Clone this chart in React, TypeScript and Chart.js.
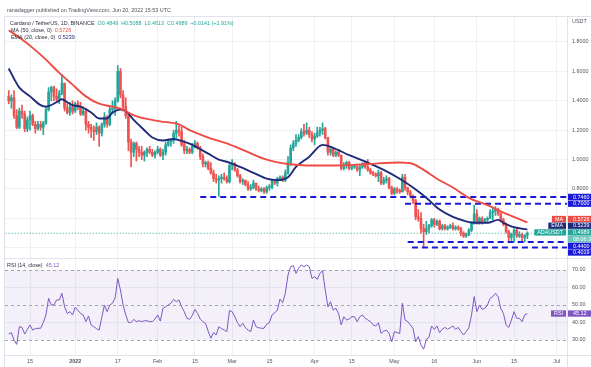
import React, { useEffect, useRef } from "react";
import { Chart, registerables } from "chart.js";

Chart.register(...registerables);

const FONT = "'Liberation Sans', Arial, sans-serif";
const FS = 5.4;
const TXT = "#50535e";
const DARK = "#2a2e39";
const GRID = "#eef0f4";
const UP = "#26a69a";
const DOWN = "#ef5350";
const MA_COLOR = "#ee4b43";
const EMA_COLOR = "#1e2a7a";
const RSI_COLOR = "#7e57c2";
const LEVEL_COLOR = "#1a1ad6";

// Daily candles, day 0 = 2021-12-07 ... day 195 = 2022-06-20
const firstDay = "2021-12-07";
const opens = [
  1.43,1.40,1.42,1.30,1.22,1.33,1.31,1.21,1.27,1.30,
  1.24,1.21,1.24,1.22,1.25,1.34,1.46,1.49,1.43,1.41,
  1.45,1.52,1.35,1.32,1.36,1.33,1.38,1.36,1.31,1.33,
  1.24,1.22,1.20,1.19,1.22,1.18,1.24,1.29,1.24,1.34,
  1.35,1.40,1.60,1.44,1.36,1.30,1.12,1.05,1.11,1.07,
  1.05,1.03,1.05,1.07,1.05,1.03,1.05,1.07,1.03,1.05,
  1.10,1.12,1.13,1.18,1.20,1.19,1.10,1.06,1.07,1.05,
  1.09,1.11,1.08,1.02,0.97,0.98,0.94,0.91,0.87,0.86,
  0.87,0.88,0.87,0.85,0.96,0.97,0.93,0.89,0.85,0.86,
  0.83,0.80,0.81,0.84,0.80,0.79,0.80,0.78,0.81,0.81,
  0.85,0.84,0.87,0.88,0.86,0.91,0.98,1.08,1.11,1.13,
  1.15,1.19,1.18,1.20,1.17,1.14,1.16,1.18,1.20,1.21,
  1.15,1.05,1.07,1.03,1.05,1.03,0.94,0.96,0.98,0.94,
  0.95,0.95,0.93,0.95,0.97,0.95,0.93,0.91,0.90,0.89,
  0.91,0.84,0.86,0.87,0.81,0.77,0.80,0.79,0.78,0.88,
  0.81,0.78,0.75,0.72,0.61,0.60,0.53,0.51,0.53,0.55,
  0.59,0.56,0.58,0.53,0.55,0.53,0.54,0.55,0.53,0.54,
  0.53,0.50,0.48,0.49,0.52,0.57,0.63,0.57,0.60,0.58,
  0.59,0.60,0.64,0.65,0.66,0.63,0.59,0.56,0.51,0.47,
  0.49,0.52,0.48,0.49,0.47,0.4849,
];
const highs = [
  1.47,1.44,1.47,1.34,1.35,1.37,1.33,1.29,1.33,1.31,
  1.26,1.26,1.26,1.26,1.36,1.49,1.50,1.50,1.48,1.47,
  1.58,1.52,1.38,1.39,1.40,1.39,1.40,1.39,1.36,1.35,
  1.26,1.24,1.23,1.25,1.23,1.25,1.32,1.30,1.36,1.40,
  1.42,1.64,1.62,1.47,1.42,1.31,1.14,1.12,1.12,1.09,
  1.09,1.06,1.08,1.09,1.07,1.06,1.09,1.08,1.07,1.12,
  1.14,1.14,1.20,1.26,1.23,1.22,1.13,1.09,1.08,1.11,
  1.13,1.12,1.09,1.04,0.99,0.99,0.98,0.93,0.90,0.89,
  0.90,0.91,0.89,0.98,1.00,0.98,0.94,0.90,0.87,0.86,
  0.85,0.83,0.86,0.84,0.82,0.81,0.81,0.82,0.83,0.86,
  0.86,0.88,0.89,0.89,0.93,1.02,1.10,1.13,1.17,1.17,
  1.21,1.24,1.25,1.22,1.19,1.18,1.22,1.22,1.25,1.22,
  1.15,1.09,1.08,1.06,1.07,1.03,0.98,0.99,0.99,0.96,
  0.96,0.96,0.96,0.98,0.99,1.00,0.94,0.92,0.91,0.93,
  0.92,0.88,0.89,0.88,0.82,0.81,0.81,0.80,0.90,0.90,
  0.81,0.79,0.76,0.73,0.66,0.64,0.56,0.58,0.56,0.60,
  0.60,0.59,0.59,0.56,0.56,0.55,0.56,0.57,0.55,0.55,
  0.54,0.51,0.50,0.53,0.58,0.69,0.66,0.61,0.61,0.60,
  0.61,0.66,0.67,0.68,0.67,0.64,0.60,0.57,0.52,0.50,
  0.53,0.53,0.51,0.50,0.49,0.5088,
];
const lows = [
  1.38,1.35,1.28,1.21,1.21,1.28,1.19,1.19,1.20,1.23,
  1.18,1.20,1.20,1.17,1.24,1.33,1.40,1.40,1.39,1.38,
  1.44,1.33,1.31,1.30,1.31,1.32,1.34,1.30,1.30,1.20,
  1.18,1.15,1.13,1.17,1.09,1.16,1.22,1.22,1.23,1.31,
  1.30,1.39,1.42,1.33,1.28,1.06,0.95,1.02,0.99,1.02,
  1.00,0.99,1.02,1.04,1.02,1.01,1.04,1.02,1.00,1.03,
  1.09,1.09,1.11,1.15,1.16,1.09,1.04,1.04,1.04,1.04,
  1.08,1.07,1.00,0.95,0.95,0.93,0.90,0.85,0.84,0.75,
  0.84,0.86,0.84,0.84,0.93,0.92,0.88,0.84,0.83,0.82,
  0.79,0.79,0.80,0.79,0.78,0.78,0.77,0.77,0.79,0.80,
  0.83,0.82,0.86,0.85,0.85,0.90,0.96,1.06,1.09,1.12,
  1.14,1.16,1.17,1.15,1.12,1.10,1.15,1.16,1.17,1.14,
  1.03,1.03,1.02,1.02,1.02,0.93,0.93,0.94,0.93,0.93,
  0.94,0.92,0.89,0.94,0.94,0.92,0.90,0.89,0.88,0.85,
  0.83,0.83,0.84,0.80,0.76,0.76,0.77,0.77,0.78,0.79,
  0.76,0.74,0.70,0.59,0.58,0.50,0.40,0.49,0.50,0.54,
  0.54,0.55,0.52,0.52,0.52,0.52,0.53,0.52,0.52,0.52,
  0.48,0.47,0.47,0.48,0.51,0.56,0.56,0.56,0.56,0.57,
  0.58,0.60,0.59,0.62,0.62,0.58,0.55,0.50,0.44,0.45,
  0.44,0.47,0.47,0.44,0.44,0.4613,
];
const closes = [
  1.40,1.42,1.30,1.22,1.33,1.31,1.21,1.27,1.30,1.24,
  1.21,1.24,1.22,1.25,1.34,1.46,1.49,1.43,1.41,1.45,
  1.52,1.35,1.32,1.36,1.33,1.38,1.36,1.31,1.33,1.24,
  1.22,1.20,1.19,1.22,1.18,1.24,1.29,1.24,1.34,1.35,
  1.40,1.60,1.44,1.36,1.30,1.12,1.05,1.11,1.07,1.05,
  1.03,1.05,1.07,1.05,1.03,1.05,1.07,1.03,1.05,1.10,
  1.12,1.13,1.18,1.20,1.19,1.10,1.06,1.07,1.05,1.09,
  1.11,1.08,1.02,0.97,0.98,0.94,0.91,0.87,0.86,0.87,
  0.88,0.87,0.85,0.96,0.97,0.93,0.89,0.85,0.86,0.83,
  0.80,0.81,0.84,0.80,0.79,0.80,0.78,0.81,0.81,0.85,
  0.84,0.87,0.88,0.86,0.91,0.98,1.08,1.11,1.13,1.15,
  1.19,1.18,1.20,1.17,1.14,1.16,1.18,1.20,1.21,1.15,
  1.05,1.07,1.03,1.05,1.03,0.94,0.96,0.98,0.94,0.95,
  0.95,0.93,0.95,0.97,0.95,0.93,0.91,0.90,0.89,0.91,
  0.84,0.86,0.87,0.81,0.77,0.80,0.79,0.78,0.88,0.81,
  0.78,0.75,0.72,0.61,0.60,0.53,0.51,0.53,0.55,0.59,
  0.56,0.58,0.53,0.55,0.53,0.54,0.55,0.53,0.54,0.53,
  0.50,0.48,0.49,0.52,0.57,0.63,0.57,0.60,0.58,0.59,
  0.60,0.64,0.65,0.66,0.63,0.59,0.56,0.51,0.47,0.49,
  0.52,0.48,0.49,0.47,0.4848,0.4989,
];

// RSI (14) per day
const rsi = [
  33.4,34.2,30,27.5,37.6,37.2,33.4,36,38.6,35.7,
  36.5,36.7,36.7,40,44.3,53.8,50,50,52.9,52.9,
  56.7,49,45.2,46.2,44.3,48.7,47,45.2,44.3,40.5,
  43.7,38.6,37.6,36.5,35.7,43,50,46.2,50,51,
  54,65.2,58.6,50,44.3,40,39.9,41.8,40.5,41,
  40.5,41,41,40.5,40.5,42,44.3,40.8,48.1,49,
  50,51,53.2,51.9,52.9,49,46.2,42.4,41.8,44,
  47.5,45.2,42,40.5,39.5,35,31,34.2,32.9,37.6,
  36.5,35.7,34.8,46.8,46.2,43.3,40,37.6,39.5,37,
  35.7,34.8,41.4,37.6,37,36.7,36.7,39.1,39.9,44.3,
  45.5,47.1,53.4,51.3,56.7,67.1,71.9,72.5,68.1,71,
  72.9,71.9,72.9,71.9,65.2,66.2,64.7,68.1,69.6,58.6,
  49,51.9,47.1,48.1,45.2,38.6,43.3,41.4,42,43.3,
  43.3,40.5,43.3,44.3,42.4,41.5,40.5,38.6,38,39.9,
  33.8,35,35.7,33.8,29,34.8,34.2,33.8,51,41.4,
  40.5,38.6,36.7,29,31.9,27.1,24.7,30.4,31.5,38,
  36.1,38,34.2,36.1,37.2,36.1,37,38,36.1,37.2,
  34.8,32.9,34.8,37,44.3,54.8,46.2,50,47.5,48.1,
  50,53.8,54.8,56.7,54.8,48.1,45.2,38.6,37.2,41.4,
  46.2,42.4,42.4,40.5,44.3,45.12,
];

// MA(50) read at sample days
const maDays = [0,4,9,14,19,24,29,34,39,43,47,51,57,64,68,75,82,90,97,105,112,122,135,147,152,156,161,167,173,180,186,195];
const maValues = [1.88,1.83,1.76,1.68,1.59,1.51,1.43,1.38,1.36,1.34,1.30,1.28,1.26,1.24,1.20,1.15,1.11,1.05,1.00,0.97,0.96,0.96,0.97,0.98,0.97,0.93,0.87,0.81,0.74,0.69,0.64,0.5726];

// EMA(20) read at sample days
const emaDays = [0,2,4,8,12,14,18,20,22,24,27,31,34,37,39,42,44,47,51,54,58,62,66,69,75,79,83,87,92,97,101,105,108,113,118,122,128,135,141,147,152,157,162,167,172,175,180,184,186,190,195];
const emaValues = [1.62,1.55,1.49,1.43,1.37,1.36,1.39,1.41,1.39,1.37,1.36,1.32,1.28,1.28,1.32,1.34,1.33,1.27,1.20,1.15,1.13,1.14,1.12,1.10,1.04,1.00,0.98,0.95,0.91,0.87,0.86,0.88,0.95,1.02,1.10,1.08,1.03,0.98,0.93,0.87,0.81,0.74,0.66,0.61,0.58,0.57,0.57,0.59,0.57,0.54,0.5239];

// Horizontal support / resistance levels and the day each starts
const levelValues = [0.746, 0.70, 0.44, 0.4019];
const levelStarts = [72, 149, 150, 151.6];

// Axis ticks
const tickDays = [8,25,41,56,70,84,98,115,129,145,160,176,190,206];
const tickLabels = ["15","2022","17","Feb","15","Mar","15","Apr","15","May","16","Jun","15","Jul"];
const priceTicks = [0.4,0.5,0.6,0.7,0.8,0.9,1.0,1.1,1.2,1.3,1.4,1.5,1.6,1.7,1.8,1.9];
const rsiTicks = [30,40,50,60,70];
const rsiBand = [30, 70];
const rsiDashed = [30, 50, 70];

const X_MIN = -1.4, X_MAX = 209.9;
const Y_MIN = 0.3305, Y_MAX = 1.970;
const R_MIN = 21.43, R_MAX = 76.86;

const fontStr = (w = "normal") => `${w} ${FS}px ${FONT}`;

function drawSegments(ctx: CanvasRenderingContext2D, x: number, y: number, segs: [string, string][]) {
  ctx.font = fontStr();
  ctx.textBaseline = "middle";
  ctx.textAlign = "left";
  let cx = x;
  for (const [t, c] of segs) {
    ctx.fillStyle = c;
    ctx.fillText(t, cx, y);
    cx += ctx.measureText(t).width;
  }
}

function tag(ctx: CanvasRenderingContext2D, x0: number, x1: number, yc: number, h: number, bg: string, text: string, align: "left" | "center" = "left") {
  ctx.fillStyle = bg;
  ctx.fillRect(x0, yc - h / 2, x1 - x0, h);
  ctx.fillStyle = "#ffffff";
  ctx.font = fontStr();
  ctx.textBaseline = "middle";
  if (align === "left") {
    ctx.textAlign = "left";
    ctx.fillText(text, x0 + 5, yc + 0.3);
  } else {
    ctx.textAlign = "center";
    ctx.fillText(text, (x0 + x1) / 2, yc + 0.3);
  }
}

function spread(items: { y: number; pos?: number }[], h: number) {
  let clusters = items.map((it) => ({ items: [it], c: it.y }));
  let merged = true;
  while (merged) {
    merged = false;
    for (let i = 1; i < clusters.length; i++) {
      const p = clusters[i - 1], q = clusters[i];
      if (p.c + (p.items.length * h) / 2 > q.c - (q.items.length * h) / 2 + 0.01) {
        const all = [...p.items, ...q.items];
        const c = all.reduce((s, it) => s + it.y, 0) / all.length;
        clusters.splice(i - 1, 2, { items: all, c });
        merged = true;
        break;
      }
    }
  }
  for (const cl of clusters) {
    const top = cl.c - (cl.items.length * h) / 2;
    cl.items.forEach((it, k) => (it.pos = top + h * (k + 0.5)));
  }
}

const overlay = {
  id: "overlay",
  beforeDatasetsDraw(chart: any) {
    const { ctx, chartArea: a } = chart;
    const y2 = chart.scales.y2;
    ctx.save();
    const t = y2.getPixelForValue(rsiBand[1]);
    const b = y2.getPixelForValue(rsiBand[0]);
    ctx.fillStyle = "rgba(126,87,194,0.09)";
    ctx.fillRect(a.left, t, a.right - a.left, b - t);
    ctx.strokeStyle = "#a3a6af";
    ctx.lineWidth = 1;
    ctx.setLineDash([3, 3]);
    for (const v of rsiDashed) {
      const yy = Math.round(y2.getPixelForValue(v)) + 0.5;
      ctx.beginPath();
      ctx.moveTo(a.left, yy);
      ctx.lineTo(a.right, yy);
      ctx.stroke();
    }
    ctx.restore();
  },
  afterDraw(chart: any) {
    const { ctx, chartArea: a, width, height } = chart;
    const ys = chart.scales.y;
    const y2 = chart.scales.y2;
    ctx.save();
    // frame
    ctx.strokeStyle = "#e0e3eb";
    ctx.lineWidth = 1;
    const L = (x0: number, y0: number, x1: number, y1: number) => {
      ctx.beginPath();
      ctx.moveTo(x0, y0);
      ctx.lineTo(x1, y1);
      ctx.stroke();
    };
    L(a.left - 0.5, a.top - 0.5, width, a.top - 0.5);
    L(a.left - 0.5, a.top - 0.5, a.left - 0.5, height);
    L(a.right + 0.5, a.top - 0.5, a.right + 0.5, height);
    L(a.left - 0.5, a.bottom + 0.5, width, a.bottom + 0.5);
    L(a.left - 0.5, Math.round(ys.bottom) + 0.5, width, Math.round(ys.bottom) + 0.5);

    // USDT label
    ctx.fillStyle = "#ffffff";
    ctx.fillRect(a.right + 1, a.top, width - a.right - 1, 8);
    ctx.fillStyle = TXT;
    ctx.font = fontStr();
    ctx.textBaseline = "middle";
    ctx.textAlign = "left";
    ctx.fillText("USDT", a.right + 5, a.top + 5);

    // price tags on the right axis
    const last = closes[closes.length - 1];
    const maLast = maValues[maValues.length - 1];
    const emaLast = emaValues[emaValues.length - 1];
    const h = 6.7;
    const items: any[] = [
      { y: ys.getPixelForValue(levelValues[0]), bg: LEVEL_COLOR, text: levelValues[0].toFixed(4) },
      { y: ys.getPixelForValue(levelValues[1]), bg: LEVEL_COLOR, text: levelValues[1].toFixed(4) },
      { y: ys.getPixelForValue(maLast), bg: MA_COLOR, text: maLast.toFixed(4), side: "MA" },
      { y: ys.getPixelForValue(emaLast), bg: EMA_COLOR, text: emaLast.toFixed(4), side: "EMA" },
      { y: ys.getPixelForValue(last), bg: UP, text: last.toFixed(4), side: "ADAUSDT" },
      { y: ys.getPixelForValue(last) + h, bg: "#6cc3ba", text: "08:06:37" },
      { y: ys.getPixelForValue(levelValues[2]), bg: LEVEL_COLOR, text: levelValues[2].toFixed(4) },
      { y: ys.getPixelForValue(levelValues[3]), bg: LEVEL_COLOR, text: levelValues[3].toFixed(4) },
    ];
    items.sort((p, q) => p.y - q.y);
    spread(items, h);
    for (const it of items) {
      tag(ctx, a.right + 1, width, it.pos, h - 0.4, it.bg, it.text);
      if (it.side) {
        ctx.font = fontStr();
        const w = ctx.measureText(it.side).width + 6;
        tag(ctx, a.right - 1 - w, a.right - 1, it.pos, h - 0.4, it.bg, it.side, "center");
      }
    }
    // RSI tag
    const rLast = rsi[rsi.length - 1];
    const ry = y2.getPixelForValue(rLast);
    tag(ctx, a.right + 1, width, ry, h - 0.4, RSI_COLOR, rLast.toFixed(2));
    ctx.font = fontStr();
    const rw = ctx.measureText("RSI").width + 6;
    tag(ctx, a.right - 1 - rw, a.right - 1, ry, h - 0.4, RSI_COLOR, "RSI", "center");

    // legends
    const n = closes.length;
    const chg = closes[n - 1] - closes[n - 2];
    const pct = (chg / closes[n - 2]) * 100;
    drawSegments(ctx, 7, 11, [["ranadagger published on TradingView.com, Jun 20, 2022 15:53 UTC", TXT]]);
    drawSegments(ctx, 10, 24, [
      ["Cardano / TetherUS, 1D, BINANCE  ", DARK],
      [`O${opens[n - 1].toFixed(4)}  H${highs[n - 1].toFixed(4)}  L${lows[n - 1].toFixed(4)}  C${closes[n - 1].toFixed(4)}  ${chg >= 0 ? "+" : ""}${chg.toFixed(4)} (${pct >= 0 ? "+" : ""}${pct.toFixed(2)}%)`, UP],
    ]);
    drawSegments(ctx, 11, 31, [["MA (50, close, 0)  ", DARK], [maLast.toFixed(4), MA_COLOR]]);
    drawSegments(ctx, 11, 38, [["EMA (20, close, 0)  ", DARK], [emaLast.toFixed(4), EMA_COLOR]]);
    drawSegments(ctx, 7, Math.round(ys.bottom) + 8, [["RSI (14, close)  ", DARK], [rLast.toFixed(2), RSI_COLOR]]);
    ctx.restore();
  },
};

export default function App() {
  const ref = useRef<HTMLCanvasElement>(null);
  useEffect(() => {
    const days = closes.map((_, i) => i);
    const colors = days.map((i) => (closes[i] >= opens[i] ? UP : DOWN));
    const last = closes[closes.length - 1];
    const levelSets = levelValues.map((v, k) => ({
      type: "line" as const,
      label: "level" + k,
      data: [{ x: levelStarts[k], y: v }, { x: X_MAX + 2, y: v }],
      yAxisID: "y",
      borderColor: LEVEL_COLOR,
      borderWidth: 2,
      borderDash: [6, 4],
      pointRadius: 0,
      order: 0,
    }));
    const chart = new Chart(ref.current as HTMLCanvasElement, {
      type: "bar",
      data: {
        datasets: [
          {
            type: "line",
            label: "MA",
            data: maDays.map((d, i) => ({ x: d, y: maValues[i] })),
            yAxisID: "y",
            borderColor: MA_COLOR,
            borderWidth: 1.9,
            pointRadius: 0,
            cubicInterpolationMode: "monotone",
            order: 0,
          },
          {
            type: "line",
            label: "EMA",
            data: emaDays.map((d, i) => ({ x: d, y: emaValues[i] })),
            yAxisID: "y",
            borderColor: EMA_COLOR,
            borderWidth: 1.9,
            pointRadius: 0,
            cubicInterpolationMode: "monotone",
            order: 0,
          },
          ...levelSets,
          {
            type: "line",
            label: "last",
            data: [{ x: X_MIN - 2, y: last }, { x: X_MAX + 2, y: last }],
            yAxisID: "y",
            borderColor: UP,
            borderWidth: 1,
            borderDash: [1, 2],
            pointRadius: 0,
            order: 3,
          },
          {
            type: "bar",
            label: "wick",
            data: days.map((i) => ({ x: i, y: [lows[i], highs[i]] })),
            backgroundColor: colors,
            yAxisID: "y",
            grouped: false,
            barThickness: 1,
            maxBarThickness: 1,
            order: 2,
          },
          {
            type: "bar",
            label: "body",
            data: days.map((i) => ({ x: i, y: [opens[i], closes[i]] })),
            backgroundColor: colors,
            yAxisID: "y",
            grouped: false,
            barThickness: 2,
            maxBarThickness: 2,
            minBarLength: 1,
            order: 1,
          },
          {
            type: "line",
            label: "RSI",
            data: days.map((i) => ({ x: i, y: rsi[i] })),
            yAxisID: "y2",
            borderColor: RSI_COLOR,
            borderWidth: 1,
            pointRadius: 0,
            tension: 0,
            order: 0,
          },
        ] as any,
      },
      options: {
        responsive: false,
        animation: false,
        devicePixelRatio: 1,
        events: [],
        layout: { padding: { top: 17, left: 5, right: 0, bottom: 0 } },
        plugins: { legend: { display: false }, tooltip: { enabled: false } },
        scales: {
          x: {
            type: "linear",
            min: X_MIN,
            max: X_MAX,
            offset: false,
            grid: { color: GRID, drawTicks: false, offset: false },
            border: { display: false },
            afterBuildTicks: (ax: any) => {
              ax.ticks = tickDays.map((v) => ({ value: v }));
            },
            afterFit: (ax: any) => {
              ax.height = 12;
            },
            ticks: {
              autoSkip: false,
              maxRotation: 0,
              padding: 3,
              color: TXT,
              font: (c: any) => ({ family: FONT, size: FS, weight: c.tick && c.tick.value === 25 ? "bold" : "normal" }),
              callback: (v: any) => {
                const k = tickDays.indexOf(v);
                return k >= 0 ? tickLabels[k] : "";
              },
            },
          },
          y: {
            type: "linear",
            position: "right",
            stack: "pane",
            stackWeight: 241,
            min: Y_MIN,
            max: Y_MAX,
            grid: { color: GRID, drawTicks: false },
            border: { display: false },
            afterBuildTicks: (ax: any) => {
              ax.ticks = priceTicks.map((v) => ({ value: v }));
            },
            afterFit: (ax: any) => {
              ax.width = 24;
            },
            ticks: {
              padding: 5,
              color: TXT,
              font: { family: FONT, size: FS },
              callback: (v: any) => (v >= 0.75 ? Number(v).toFixed(4) : ""),
            },
          },
          y2: {
            type: "linear",
            position: "right",
            stack: "pane",
            stackWeight: 97,
            min: R_MIN,
            max: R_MAX,
            grid: {
              color: (c: any) => (c.tick && (c.tick.value === 40 || c.tick.value === 60) ? GRID : "rgba(0,0,0,0)"),
              drawTicks: false,
            },
            border: { display: false },
            afterBuildTicks: (ax: any) => {
              ax.ticks = rsiTicks.map((v) => ({ value: v }));
            },
            afterFit: (ax: any) => {
              ax.width = 24;
            },
            ticks: {
              padding: 5,
              color: TXT,
              font: { family: FONT, size: FS },
              callback: (v: any) => Number(v).toFixed(2),
            },
          },
        },
      } as any,
      plugins: [overlay],
    });
    return () => chart.destroy();
  }, []);
  return (
    <div style={{ position: "fixed", left: 0, top: 0, width: 591, height: 367, background: "#ffffff" }} data-start={firstDay}>
      <canvas ref={ref} width={591} height={367} style={{ display: "block", width: 591, height: 367 }} />
    </div>
  );
}
